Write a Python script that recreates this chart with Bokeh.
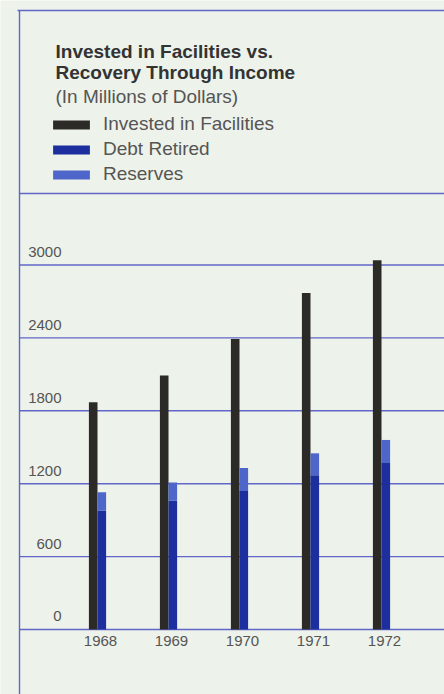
from bokeh.plotting import figure
from bokeh.models import Range1d, Legend, LegendItem
from bokeh.core.properties import value
from bokeh.embed import file_html
from bokeh.resources import INLINE

# ---- data ----
years = [1968, 1969, 1970, 1971, 1972]
year_labels = ["1968", "1969", "1970", "1971", "1972"]
invested = [1870, 2090, 2390, 2770, 3040]
debt_retired = [980, 1060, 1140, 1270, 1370]
reserves = [150, 150, 190, 180, 190]
y_ticks = [0, 600, 1200, 1800, 2400, 3000]
y_tick_labels = ["0", "600", "1200", "1800", "2400", "3000"]
title_lines = ["Invested in Facilities vs.", "Recovery Through Income"]
subtitle = "(In Millions of Dollars)"
series_names = ["Invested in Facilities", "Debt Retired", "Reserves"]

# ---- style ----
W, H = 444, 694
BG = "#edf2ea"
GRID = "#6266c8"
C_INV = "#2b2a27"
C_DEBT = "#1d2f9e"
C_RES = "#4e66c9"
FONT = "Liberation Sans"

X_START, X_END = 1968 - 97 / 71, 1968 + (W - 97) / 71
Y_START, Y_END = -535, 5177


def px_x(px):
    return X_START + px * (X_END - X_START) / W


def px_y(py):
    return Y_END - py * (Y_END - Y_START) / H


p = figure(width=W, height=H, x_range=Range1d(X_START, X_END),
           y_range=Range1d(Y_START, Y_END), x_axis_type=None, y_axis_type=None,
           output_backend="svg", toolbar_location=None, min_border=0,
           background_fill_color=BG, border_fill_color=BG, outline_line_color=None)
p.grid.visible = False

# grid lines at the tick values
p.segment(x0=[px_x(19)] * len(y_ticks), x1=[X_END] * len(y_ticks),
          y0=y_ticks, y1=y_ticks, line_color=GRID, line_width=1.4)
# frame lines
p.segment(x0=[px_x(17), px_x(19), px_x(19)], x1=[X_END, X_END, px_x(19)],
          y0=[px_y(10), px_y(193), px_y(10)], y1=[px_y(10), px_y(193), Y_START],
          line_color=GRID, line_width=1.4)

bw = 8.6 / 71
x_inv = [y - bw / 2 for y in years]
x_blue = [y + bw / 2 for y in years]
tops_res = [d + r for d, r in zip(debt_retired, reserves)]

r_inv = p.vbar(x=x_inv, top=invested, bottom=0, width=bw, fill_color=C_INV, line_color=None)
r_debt = p.vbar(x=x_blue, top=debt_retired, bottom=0, width=bw, fill_color=C_DEBT, line_color=None)
r_res = p.vbar(x=x_blue, top=tops_res, bottom=debt_retired, width=bw, fill_color=C_RES, line_color=None)

# y tick labels (inside plot, above grid lines)
p.text(x=[px_x(61)] * len(y_ticks), y=y_ticks, text=y_tick_labels, y_offset=-13,
       text_align="right", text_baseline="middle", text_font=value(FONT),
       text_font_size="15px", text_color="#555555")
# year labels
p.text(x=years, y=[0] * len(years), text=year_labels, x_offset=3, y_offset=12,
       text_align="center", text_baseline="middle", text_font=value(FONT),
       text_font_size="15px", text_color="#555555")

# title
p.text(x=[px_x(55)] * 2, y=[px_y(50.5), px_y(72)], text=title_lines,
       text_align="left", text_baseline="middle", text_font=value(FONT),
       text_font_style="bold", text_font_size="19px", text_color="#333333")
p.text(x=[px_x(55)], y=[px_y(96)], text=[subtitle],
       text_align="left", text_baseline="middle", text_font=value(FONT),
       text_font_size="19px", text_color="#555555")

legend = Legend(items=[LegendItem(label=series_names[0], renderers=[r_inv]),
                       LegendItem(label=series_names[1], renderers=[r_debt]),
                       LegendItem(label=series_names[2], renderers=[r_res])],
                location=(48, 509), orientation="vertical",
                glyph_width=46, glyph_height=11, label_standoff=9, spacing=3,
                padding=0, margin=0, border_line_color=None, background_fill_alpha=0,
                label_text_font=FONT, label_text_font_size="19px",
                label_text_color="#555555", label_height=22)
p.add_layout(legend)

open("out.html", "w").write(file_html(p, INLINE))
